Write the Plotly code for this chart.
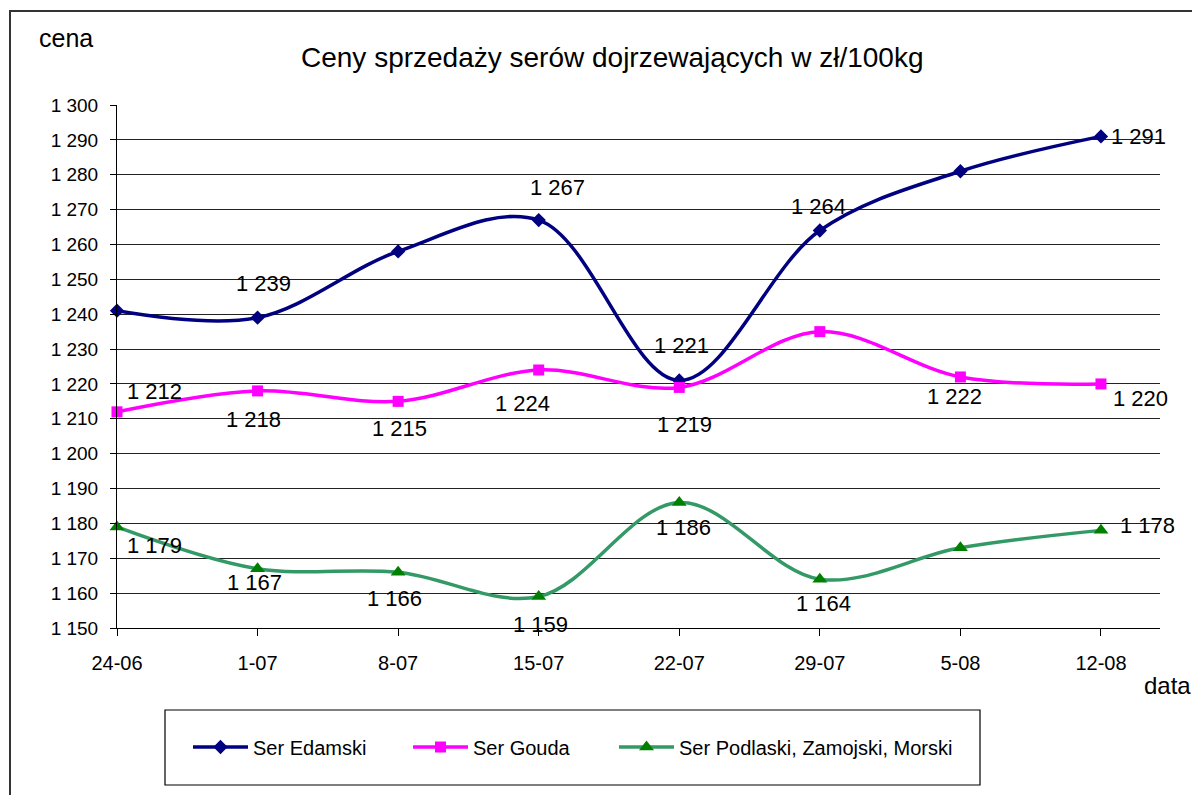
import plotly.graph_objects as go
import pandas as pd

# ---- data ----
dates = ["2008-06-24", "2008-07-01", "2008-07-08", "2008-07-15",
         "2008-07-22", "2008-07-29", "2008-08-05", "2008-08-12"]
tick_labels = ["24-06", "1-07", "8-07", "15-07", "22-07", "29-07", "5-08", "12-08"]

edamski = [1241, 1239, 1258, 1267, 1221, 1264, 1281, 1291]
gouda = [1212, 1218, 1215, 1224, 1219, 1235, 1222, 1220]
podlaski = [1179, 1167, 1166, 1159, 1186, 1164, 1173, 1178]

names = ["Ser Edamski", "Ser Gouda", "Ser Podlaski, Zamojski, Morski"]

# ---- style ----
FONT = "Liberation Sans, Arial, sans-serif"
x = pd.to_datetime(dates)

# label placement (pixel offsets dx, dy-down) per shown point
label_pos = {
    0: {1: (6, -34), 3: (19, -33), 4: (2, -35), 5: (-1, -24), 7: (38, 0)},
    1: {0: (37, -20), 1: (-4, 29), 2: (1, 27), 3: (-16, 34), 4: (5, 37), 6: (-6, 20), 7: (40, 15)},
    2: {0: (37, 19), 1: (-3, 14), 2: (-4, 26), 3: (2, 28), 4: (4, 25), 5: (4, 24), 7: (47, -5)},
}

series = [edamski, gouda, podlaski]
line_colors = ["#000080", "#FF00FF", "#339966"]
marker_colors = ["#000080", "#FF00FF", "#008000"]
symbols = ["diamond", "square", "triangle-up"]
msizes = [11, 11, 13]
legend_w = [150, 136, None]

fig = go.Figure()
for i, ys in enumerate(series):
    kw = {}
    if legend_w[i]:
        kw["legendwidth"] = legend_w[i]
    fig.add_trace(go.Scatter(
        x=x, y=ys, name=names[i], mode="lines+markers",
        line=dict(color=line_colors[i], width=3.5, shape="spline", smoothing=1.0),
        marker=dict(symbol=symbols[i], size=msizes[i], color=marker_colors[i]),
        cliponaxis=False, **kw))

annotations = []
for i, ys in enumerate(series):
    for idx, (dx, dy) in label_pos[i].items():
        annotations.append(dict(
            x=x[idx], y=ys[idx], xref="x", yref="y",
            text=f"{ys[idx]:,}".replace(",", " "),
            showarrow=False, xshift=dx, yshift=-dy,
            font=dict(family=FONT, size=22, color="black")))

# page offset of the figure (browser body margin)
OFF = 8
# plot area in screen pixels
SL, SR, ST, SB = 117, 1160, 105, 628
W, H = 1200 - OFF, 795 - OFF
L, T = SL - OFF, ST - OFF
R = W - (SR - OFF)
B = H - (SB - OFF)
pw, ph = SR - SL, SB - ST


def px(xp):
    return (xp - SL) / pw


def py(yp):
    return (SB - yp) / ph


annotations += [
    dict(text="Ceny sprzedaży serów dojrzewających w zł/100kg", x=px(612), y=py(58),
         xref="paper", yref="paper", xanchor="center", yanchor="middle", showarrow=False,
         font=dict(family=FONT, size=28, color="black")),
    dict(text="cena", x=px(37), y=py(38), xref="paper", yref="paper",
         xanchor="left", yanchor="middle", showarrow=False,
         font=dict(family=FONT, size=25, color="black")),
    dict(text="data", x=px(1142), y=py(685), xref="paper", yref="paper",
         xanchor="left", yanchor="middle", showarrow=False,
         font=dict(family=FONT, size=24, color="black")),
]

shapes = [
    # outer chart frame (clipped by the page edge)
    dict(type="rect", xref="paper", yref="paper", x0=px(10), x1=px(1215),
         y0=py(815), y1=py(11), line=dict(color="#333333", width=2), layer="below"),
    # legend box
    dict(type="rect", xref="paper", yref="paper", x0=px(165), x1=px(980),
         y0=py(785), y1=py(710), line=dict(color="black", width=1.2), layer="below"),
]

fig.update_layout(
    width=W, height=H,
    margin=dict(l=L, r=R, t=T, b=B, autoexpand=False),
    paper_bgcolor="white", plot_bgcolor="white",
    font=dict(family=FONT, size=18, color="black"),
    showlegend=True,
    legend=dict(orientation="h", x=px(188), y=py(747), xanchor="left", yanchor="middle",
                font=dict(family=FONT, size=20, color="black"),
                bgcolor="rgba(0,0,0,0)", borderwidth=0, itemwidth=55,
                itemclick=False, itemdoubleclick=False),
    annotations=annotations,
    shapes=shapes,
    separators=". ",
)

fig.update_xaxes(
    range=[x[0], x[0] + pd.Timedelta(days=51.94)],
    tickvals=x, ticktext=tick_labels,
    showgrid=False, zeroline=False,
    showline=True, linecolor="black", linewidth=1,
    ticks="outside", ticklen=7, tickcolor="black", tickwidth=1,
    ticklabelstandoff=10,
    tickfont=dict(family=FONT, size=20, color="black"),
)
fig.update_yaxes(
    range=[1150, 1300], dtick=10, tick0=1150,
    tickformat=",d",
    showgrid=True, gridcolor="#222222", gridwidth=1,
    zeroline=False,
    showline=True, linecolor="black", linewidth=1,
    ticks="outside", ticklen=6, tickcolor="black", tickwidth=1,
    ticklabelstandoff=8,
    tickfont=dict(family=FONT, size=19, color="black"),
)

fig.write_html("out.html")
